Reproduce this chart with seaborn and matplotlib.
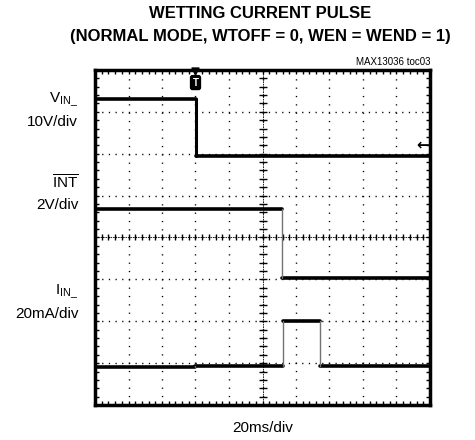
import numpy as np
import pandas as pd
import seaborn as sns
import matplotlib.pyplot as plt

sns.set_style("white")
plt.rcParams['font.family'] = ['Liberation Sans', 'DejaVu Sans']
plt.rcParams['text.color'] = 'black'

# scope traces, in divisions (10 x 8 screen, 0 at bottom)
vin_t = [0, 3.02, 3.02, 10]
vin_v = [7.31, 7.31, 5.95, 5.95]
int_t = [0, 5.58, 5.58, 10]
int_v = [4.68, 4.68, 3.03, 3.03]
iin_t = [0, 3.0, 3.0, 5.6, 5.6, 6.72, 6.72, 10]
iin_v = [0.91, 0.91, 0.94, 0.94, 2.0, 2.0, 0.94, 0.94]

trace_labels = [("V$_{\\mathregular{IN\\_}}$", "10V/div", 7.28),
                ("$\\mathregular{\\overline{INT}}$", "2V/div", 5.3),
                ("I$_{\\mathregular{IN\\_}}$", "20mA/div", 2.7)]


def split(t, v, name):
    # flat parts drawn heavy, edges drawn light
    flat, edge = [], []
    for i in range(len(t) - 1):
        seg = pd.DataFrame({'t': [t[i], t[i + 1]], 'v': [v[i], v[i + 1]],
                            'seg': f"{name}{i}"})
        (flat if t[i] != t[i + 1] else edge).append(seg)
    return flat, edge


flats, edges = [], []
for t, v, n in [(vin_t, vin_v, 'vin'), (int_t, int_v, 'int'), (iin_t, iin_v, 'iin')]:
    f, e = split(t, v, n)
    flats += f
    edges += e
flat_df = pd.concat(flats)
edge_df = pd.concat(edges)
vin_edge = edge_df['seg'].str.startswith('vin')

fig = plt.figure(figsize=(4.75, 4.4), dpi=100)
ax = fig.add_axes([95 / 475, 35 / 440, 335 / 475, 335 / 440])
ax.set_xlim(0, 10)
ax.set_ylim(0, 8)

# graticule
ax.set_xticks(np.arange(0, 11, 1))
ax.set_yticks(np.arange(0, 9, 1))
ax.set_xticks(np.arange(0, 10.01, 0.2), minor=True)
ax.set_yticks(np.arange(0, 8.01, 0.2), minor=True)
ax.tick_params(which='both', direction='in', length=3, width=1, top=True, right=True,
               bottom=True, left=True, labelbottom=False, labelleft=False, color='black')
ax.xaxis.grid(True, color='black', lw=1.0, linestyle=(0, (0.9, 5.1)))
ax.yaxis.grid(True, color='black', lw=1.0, linestyle=(0, (0.9, 3.9)))
for s in ax.spines.values():
    s.set_linewidth(2.5)
    s.set_color('black')

# centre axes with fine ticks
ax.axhline(4, color='black', lw=0.6, linestyle=(0, (2, 1)))
ax.axvline(5, color='black', lw=0.6, linestyle=(0, (2, 1)))
cx = np.arange(0, 10.01, 0.2)
cy = np.arange(0, 8.01, 0.2)
ax.scatter(cx, np.full_like(cx, 4), marker='|', s=25, color='black', lw=1)
ax.scatter(np.full_like(cy, 5), cy, marker='_', s=34, color='black', lw=1)

# traces
sns.lineplot(data=flat_df, x='t', y='v', units='seg', estimator=None, sort=False,
             color='black', lw=2.6, ax=ax, legend=False)
sns.lineplot(data=edge_df[vin_edge], x='t', y='v', units='seg', estimator=None, sort=False,
             color='black', lw=2.2, ax=ax, legend=False)
sns.lineplot(data=edge_df[~vin_edge], x='t', y='v', units='seg', estimator=None, sort=False,
             color='0.45', lw=1.0, ax=ax, legend=False)
ax.set_xlabel("")
ax.set_ylabel("")

# trigger and ground markers
ax.scatter([3.0], [7.97], marker='v', s=25, color='black', zorder=5, clip_on=False)
ax.text(3.0, 7.7, "T", ha='center', va='center', fontsize=7, color='white', weight='bold',
        bbox=dict(boxstyle='round,pad=0.2', fc='black', ec='black'), zorder=6)
ax.text(9.97, 6.2, "\u2190", ha='right', va='center', fontsize=11, weight='bold',
        family='DejaVu Sans')

for name, scale, y in trace_labels:
    ax.text(-0.5, y, name, ha='right', va='center', fontsize=11, clip_on=False)
    ax.text(-0.5, y - 0.52, scale, ha='right', va='center', fontsize=11, clip_on=False)

fig.text(263 / 475, 1 - 428 / 440, "20ms/div", ha='center', va='center', fontsize=11)
fig.text(430 / 475, 1 - 62 / 440, "MAX13036 toc03", ha='right', va='center', fontsize=7)
fig.text(260 / 475, 1 - 13 / 440, "WETTING CURRENT PULSE", ha='center', va='center',
         fontsize=12, weight='bold')
fig.text(260 / 475, 1 - 36 / 440, "(NORMAL MODE, WTOFF = 0, WEN = WEND = 1)", ha='center',
         va='center', fontsize=12, weight='bold')

fig.savefig("out.png", dpi=100)
